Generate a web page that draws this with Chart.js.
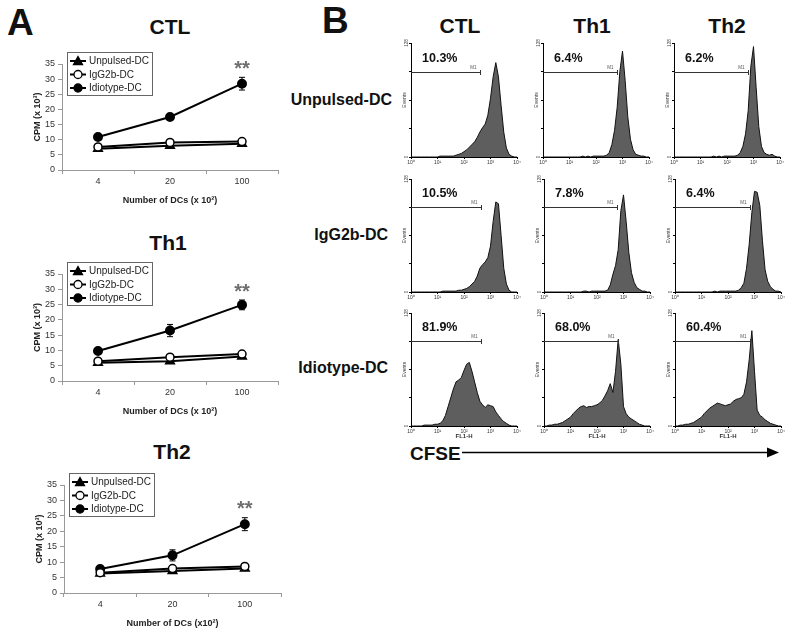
<!DOCTYPE html>
<html>
<head>
<meta charset="utf-8">
<script src="https://cdn.jsdelivr.net/npm/chart.js@4.4.0/dist/chart.umd.min.js"></script>
<style>
body { margin: 0; background: #fff; width: 800px; height: 635px; position: relative; overflow: hidden;
       font-family: "Liberation Sans", Arial, sans-serif; color: #111; }
canvas { position: absolute; }
.lbl { position: absolute; font-weight: bold; line-height: 1; white-space: nowrap; }
.panel { font-size: 37px; }
.ttl { font-size: 21px; transform: translate(-50%, -50%); }
.row { font-size: 16px; transform: translateY(-50%); text-align: right; width: 140px; }
.cfse { font-size: 19px; transform: translateY(-50%); }
</style>
</head>
<body>
<div class="lbl panel" style="left:7px;top:4px">A</div>
<div class="lbl panel" style="left:322px;top:2px">B</div>

<div class="lbl ttl" style="left:170px;top:26px">CTL</div>
<div class="lbl ttl" style="left:168px;top:242px">Th1</div>
<div class="lbl ttl" style="left:172px;top:451px">Th2</div>

<div class="lbl ttl" style="left:460px;top:25px">CTL</div>
<div class="lbl ttl" style="left:592px;top:25px">Th1</div>
<div class="lbl ttl" style="left:727px;top:25px">Th2</div>

<div class="lbl row" style="left:252px;top:100px">Unpulsed-DC</div>
<div class="lbl row" style="left:248px;top:235px">IgG2b-DC</div>
<div class="lbl row" style="left:248px;top:368px">Idiotype-DC</div>

<div class="lbl cfse" style="left:410px;top:453px">CFSE</div>
<svg style="position:absolute;left:0;top:0" width="800" height="635">
  <line x1="462" y1="452.5" x2="770" y2="452.5" stroke="#000" stroke-width="1.5"/>
  <polygon points="767,447.5 779,452.5 767,457.5" fill="#000"/>
</svg>

<script>
Chart.defaults.font.family = '"Liberation Sans", Arial, sans-serif';

// ---- panel A: proliferation (CPM x 10^3) vs number of DCs ----
const doseLabels = ['4', '20', '100'];

const ctlUnpulsed = [7.0, 8.0, 8.7];
const ctlIgG2b = [7.6, 9.1, 9.4];
const ctlIdiotype = [10.9, 17.5, 28.5];
const ctlIdiotypeErr = [0.4, 1.0, 2.1];

const th1Unpulsed = [6.0, 6.5, 8.0];
const th1IgG2b = [6.5, 7.8, 8.8];
const th1Idiotype = [9.8, 16.5, 24.9];
const th1IdiotypeErr = [0.3, 2.0, 1.6];

const th2Unpulsed = [6.3, 7.1, 7.9];
const th2IgG2b = [6.6, 7.9, 8.6];
const th2Idiotype = [7.8, 12.2, 22.3];
const th2IdiotypeErr = [0.4, 1.8, 2.1];

const minorErr = [0.3, 0.4, 0.5];

// ---- panel B: CFSE histograms (events per log channel, 10^0..10^4) ----
const cfseChannel = [0.0, 0.1, 0.2, 0.3, 0.4, 0.5, 0.6, 0.7, 0.8, 0.9,
                     1.0, 1.1, 1.2, 1.3, 1.4, 1.5, 1.6, 1.7, 1.8, 1.9,
                     2.0, 2.1, 2.2, 2.3, 2.4, 2.5, 2.6, 2.7, 2.8, 2.9,
                     3.0, 3.1, 3.2, 3.3, 3.4, 3.5, 3.6, 3.7, 3.8, 3.9, 4.0];

const unpulsedCtl = [0,0,0,0,0,0,0,0,0,0, 0,1,1,1,1,1,1,2,3,4, 6,8,11,14,17,22,28,33,37,47, 66,90,106,90,58,28,10,3,1,0, 0];
const unpulsedTh1 = [0,0,0,0,0,0,0,0,0,0, 0,0,0,0,0,1,0,1,0,1, 1,1,1,1,2,5,14,30,56,96, 119,86,45,20,8,3,2,1,1,0, 0];
const unpulsedTh2 = [0,0,0,0,0,0,0,0,0,0, 0,0,0,0,0,1,0,1,0,1, 1,1,1,1,2,5,12,26,52,102, 124,78,34,12,5,3,2,3,1,0, 0];

const igg2bCtl = [0,0,0,0,0,0,0,0,0,0, 0,0,1,1,1,1,1,1,2,2, 3,4,6,9,12,18,27,31,34,39, 52,80,102,100,64,27,9,2,0,0, 0];
const igg2bTh1 = [0,0,0,0,0,0,0,0,0,0, 0,0,0,0,0,1,1,0,1,1, 1,1,1,1,2,8,20,30,48,92, 110,80,45,22,11,5,3,1,1,0, 0];
const igg2bTh2 = [0,0,0,0,0,0,0,0,0,0, 0,0,0,0,0,1,0,1,1,1, 1,1,1,1,2,5,10,27,54,90, 114,113,98,58,25,12,6,3,1,1, 0];

const idiotypeCtl = [0,0,0,0,0,1,1,1,1,2, 2,3,6,12,22,32,42,50,52,55, 63,70,72,62,50,38,28,24,21,24, 23,22,16,12,8,5,3,1,0,0, 0];
const idiotypeTh1 = [0,0,1,1,2,2,3,4,6,8, 10,14,17,20,22,23,21,22,22,23, 24,26,29,34,40,48,38,62,98,70, 22,14,10,8,6,4,2,1,0,0, 0];
const idiotypeTh2 = [0,0,1,1,2,2,3,4,6,8, 10,14,17,20,22,24,26,25,24,23, 24,25,28,30,31,32,36,50,75,108, 62,18,12,10,7,5,3,2,1,0, 0];

const gateEndUnpulsed = [2.60, 2.78, 2.79];
const gateEndIgG2b = [2.64, 2.76, 2.82];
const gateEndIdiotype = [2.64, 2.78, 2.82];
const pctUnpulsed = ['10.3%', '6.4%', '6.2%'];
const pctIgG2b = ['10.5%', '7.8%', '6.4%'];
const pctIdiotype = ['81.9%', '68.0%', '60.4%'];
const gateLevel = 96;

const sup = ['\u2070', '\u00b9', '\u00b2', '\u00b3', '\u2074'];
const FONT = '"Liberation Sans", Arial, sans-serif';

function place(id, left, top, w, h) {
    const c = document.createElement('canvas');
    c.id = id; c.width = w; c.height = h;
    c.style.left = left + 'px'; c.style.top = top + 'px';
    c.style.width = w + 'px'; c.style.height = h + 'px';
    document.body.appendChild(c);
    return c.getContext('2d');
}

function marker(ctx, style, x, y, fill) {
    ctx.beginPath();
    if (style === 'triangle') {
        ctx.moveTo(x, y - 4.5); ctx.lineTo(x + 4.5, y + 3.5); ctx.lineTo(x - 4.5, y + 3.5); ctx.closePath();
    } else {
        ctx.arc(x, y, 4, 0, Math.PI * 2);
    }
    ctx.fillStyle = fill; ctx.fill();
    ctx.strokeStyle = '#000'; ctx.lineWidth = 1.3; ctx.stroke();
}

const errorBars = {
    id: 'errorBars',
    beforeDatasetsDraw(chart) {
        const ctx = chart.ctx, y = chart.scales.y;
        chart.data.datasets.forEach((ds, i) => {
            if (!ds.errors) return;
            chart.getDatasetMeta(i).data.forEach((pt, j) => {
                const top = y.getPixelForValue(ds.data[j] + ds.errors[j]);
                const bot = y.getPixelForValue(ds.data[j] - ds.errors[j]);
                ctx.save();
                ctx.strokeStyle = '#000'; ctx.lineWidth = 1;
                ctx.beginPath();
                ctx.moveTo(pt.x, top); ctx.lineTo(pt.x, bot);
                ctx.moveTo(pt.x - 3, top); ctx.lineTo(pt.x + 3, top);
                ctx.moveTo(pt.x - 3, bot); ctx.lineTo(pt.x + 3, bot);
                ctx.stroke();
                ctx.restore();
            });
        });
    },
    afterDatasetsDraw(chart) {
        // significance stars above the last idiotype point
        const ctx = chart.ctx, y = chart.scales.y;
        chart.data.datasets.forEach((ds, i) => {
            if (!ds.sig) return;
            const n = ds.data.length - 1;
            const pt = chart.getDatasetMeta(i).data[n];
            const top = y.getPixelForValue(ds.data[n] + ds.errors[n]);
            ctx.save();
            ctx.font = 'bold 20px ' + FONT;
            ctx.fillStyle = '#6e6e6e'; ctx.textAlign = 'center'; ctx.textBaseline = 'middle';
            ctx.fillText(ds.sig, pt.x, top - 8);
            ctx.restore();
        });
    }
};

const boxLegend = {
    id: 'boxLegend',
    afterDraw(chart) {
        const a = chart.chartArea, ctx = chart.ctx;
        const bx = a.left + 5, by = a.top - 12, bw = 85, bh = 43;
        ctx.save();
        ctx.fillStyle = '#fff'; ctx.fillRect(bx, by, bw, bh);
        ctx.strokeStyle = '#666'; ctx.lineWidth = 1; ctx.strokeRect(bx + 0.5, by + 0.5, bw, bh);
        chart.data.datasets.forEach((ds, i) => {
            const ry = by + 9 + i * 13.5;
            ctx.strokeStyle = '#000'; ctx.lineWidth = 2;
            ctx.beginPath(); ctx.moveTo(bx + 3, ry); ctx.lineTo(bx + 19, ry); ctx.stroke();
            marker(ctx, ds.pointStyle, bx + 11, ry, ds.pointBackgroundColor);
            ctx.fillStyle = '#222'; ctx.font = '10px ' + FONT;
            ctx.textAlign = 'left'; ctx.textBaseline = 'middle';
            ctx.fillText(ds.label, bx + 22, ry + 0.5);
        });
        ctx.restore();
    }
};

function doseChart(id, box, unp, igg, idio, idioErr) {
    const ctx = place(id, box.left, box.top, box.width, box.height);
    return new Chart(ctx, {
        type: 'line',
        data: {
            labels: doseLabels,
            datasets: [
                { label: 'Unpulsed-DC', data: unp, errors: minorErr, borderColor: '#000', borderWidth: 2,
                  pointStyle: 'triangle', pointRadius: 4.5, pointBackgroundColor: '#000', pointBorderColor: '#000', order: 1 },
                { label: 'IgG2b-DC', data: igg, errors: minorErr, borderColor: '#000', borderWidth: 2,
                  pointStyle: 'circle', pointRadius: 4, pointBorderWidth: 1.5, pointBackgroundColor: '#fff', pointBorderColor: '#000', order: 0 },
                { label: 'Idiotype-DC', data: idio, errors: idioErr, sig: '**', borderColor: '#000', borderWidth: 2,
                  pointStyle: 'circle', pointRadius: 4, pointBackgroundColor: '#000', pointBorderColor: '#000', order: 2 }
            ]
        },
        options: {
            responsive: false, animation: false,
            layout: { padding: { top: 16, right: 10, left: 0, bottom: 0 } },
            plugins: { legend: { display: false }, tooltip: { enabled: false } },
            scales: {
                x: {
                    offset: true,
                    grid: { drawOnChartArea: false, color: '#999', tickLength: 4, offset: true },
                    border: { color: '#999' },
                    ticks: { color: '#333', font: { size: 9 }, padding: 2 },
                    title: { display: true, text: box.xTitle, color: '#222', font: { size: 9, weight: 'bold' }, padding: { top: 0, bottom: 4 } },
                    afterFit(s) { s.height = 40; }
                },
                y: {
                    min: 0, max: 35,
                    ticks: { stepSize: 5, color: '#333', font: { size: 9 }, padding: 3 },
                    grid: { drawOnChartArea: false, color: '#999', tickLength: 4 },
                    border: { color: '#999' },
                    title: { display: true, text: 'CPM (x 10\u00b3)', color: '#222', font: { size: 9, weight: 'bold' }, padding: { top: 4, bottom: 0 } },
                    afterFit(s) { s.width = box.yw; }
                }
            }
        },
        plugins: [errorBars, boxLegend]
    });
}

doseChart('ctlChart', { left: 28, top: 48, width: 260, height: 162, yw: 34, xTitle: 'Number of DCs (x 10\u00b2)' },
    ctlUnpulsed, ctlIgG2b, ctlIdiotype, ctlIdiotypeErr);
doseChart('th1Chart', { left: 28, top: 258, width: 260, height: 163, yw: 34, xTitle: 'Number of DCs (x 10\u00b2)' },
    th1Unpulsed, th1IgG2b, th1Idiotype, th1IdiotypeErr);
doseChart('th2Chart', { left: 30, top: 469, width: 261, height: 164, yw: 34, xTitle: 'Number of DCs (x10\u00b2)' },
    th2Unpulsed, th2IgG2b, th2Idiotype, th2IdiotypeErr);

const gatePlugin = {
    id: 'gate',
    afterDatasetsDraw(chart, args, opts) {
        const xs = chart.scales.x, ys = chart.scales.y, ctx = chart.ctx;
        const gy = Math.round(ys.getPixelForValue(gateLevel)) + 0.5;
        const x0 = xs.getPixelForValue(0), x1 = Math.round(xs.getPixelForValue(opts.end)) + 0.5;
        ctx.save();
        ctx.strokeStyle = '#333'; ctx.lineWidth = 1;
        ctx.beginPath();
        ctx.moveTo(x0, gy); ctx.lineTo(x1, gy);
        ctx.moveTo(x1, gy - 2.5); ctx.lineTo(x1, gy + 2.5);
        ctx.stroke();
        ctx.fillStyle = '#555'; ctx.font = '4.5px ' + FONT;
        ctx.textAlign = 'right'; ctx.textBaseline = 'bottom';
        ctx.fillText('M1', x1 - 4, gy - 2);
        ctx.fillStyle = '#111'; ctx.font = 'bold 12.5px ' + FONT;
        ctx.textAlign = 'left'; ctx.textBaseline = 'middle';
        ctx.fillText(opts.label, x0 + 11, ys.getPixelForValue(111));
        // rotated y tick labels
        ctx.fillStyle = '#444'; ctx.font = '4.5px ' + FONT;
        ctx.textAlign = 'center'; ctx.textBaseline = 'bottom';
        [0, 128].forEach(v => {
            ctx.save();
            ctx.translate(x0 - 2, ys.getPixelForValue(v));
            ctx.rotate(-Math.PI / 2);
            ctx.fillText(String(v), 0, 0);
            ctx.restore();
        });
        ctx.restore();
    }
};

function cfseHist(id, axisX, plotTop, plotH, counts, gateEnd, pct, bottomRow) {
    const xh = bottomRow ? 15 : 10;
    const ctx = place(id, axisX - 12, plotTop - 6, 12 + 106 + 6, 6 + plotH + xh);
    return new Chart(ctx, {
        type: 'line',
        data: {
            datasets: [{
                data: cfseChannel.map((c, i) => ({ x: c, y: counts[i] })),
                fill: 'origin', backgroundColor: '#5e5e5e', borderColor: '#111', borderWidth: 1,
                pointRadius: 0, tension: 0
            }]
        },
        options: {
            responsive: false, animation: false,
            layout: { padding: { top: 6, right: 6, left: 0, bottom: 0 } },
            plugins: { legend: { display: false }, tooltip: { enabled: false }, gate: { end: gateEnd, label: pct } },
            scales: {
                x: {
                    type: 'linear', min: 0, max: 4,
                    ticks: { stepSize: 1, font: { size: 5 }, color: '#333', padding: 1, maxRotation: 0,
                             callback: v => '10' + sup[v] },
                    grid: { drawOnChartArea: false, color: '#000', tickLength: 2 },
                    border: { color: '#000' },
                    title: { display: bottomRow, text: 'FL1-H', color: '#333', font: { size: 6, weight: 'bold' }, padding: { top: 0, bottom: 1 } },
                    afterFit(s) { s.height = xh; }
                },
                y: {
                    min: 0, max: 128,
                    ticks: { stepSize: 32, display: false },
                    grid: { drawOnChartArea: false, color: '#000', tickLength: 2 },
                    border: { color: '#000' },
                    title: { display: true, text: 'Events', color: '#333', font: { size: 5 }, padding: { top: 3, bottom: 0 } },
                    afterFit(s) { s.width = 12; }
                }
            }
        },
        plugins: [gatePlugin]
    });
}

const colX = [411, 543, 674];

[unpulsedCtl, unpulsedTh1, unpulsedTh2].forEach((h, i) =>
    cfseHist('unp' + i, colX[i], 43, 114, h, gateEndUnpulsed[i], pctUnpulsed[i], false));
[igg2bCtl, igg2bTh1, igg2bTh2].forEach((h, i) =>
    cfseHist('igg' + i, colX[i] + (i ? 1 : 0), 179, 113, h, gateEndIgG2b[i], pctIgG2b[i], false));
[idiotypeCtl, idiotypeTh1, idiotypeTh2].forEach((h, i) =>
    cfseHist('idio' + i, colX[i] + (i ? 1 : 0), 313, 113, h, gateEndIdiotype[i], pctIdiotype[i], true));
</script>
</body>
</html>
